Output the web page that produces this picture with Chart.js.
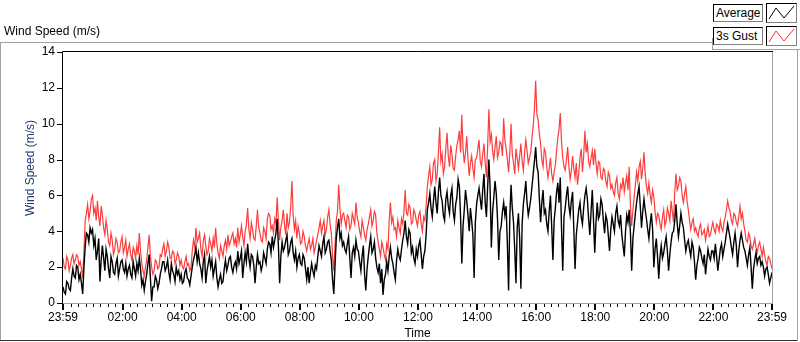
<!DOCTYPE html>
<html><head><meta charset="utf-8">
<script src="https://cdn.jsdelivr.net/npm/chart.js@4/dist/chart.umd.min.js"></script>
<style>
html,body{margin:0;padding:0;background:#fff;}
#wrap{position:relative;width:800px;height:342px;overflow:hidden;font-family:'Liberation Sans',Arial,sans-serif;font-size:12px;color:#000;}
canvas{position:absolute;left:0;top:0;}
.ln{position:absolute;}
.lb{position:absolute;border:1px solid #000;border-right-color:#808080;border-bottom-color:#808080;background:#fff;line-height:16px;padding-left:2px;white-space:nowrap;}
.sw{position:absolute;border:1px solid #000;border-right-color:#808080;border-bottom-color:#808080;background:#fff;}
</style></head>
<body><div id="wrap">
<canvas id="c" width="800" height="342"></canvas>
<div class="ln" style="left:0;top:42px;width:712px;height:1px;background:#a0a0a0"></div>
<div class="ln" style="left:0;top:42px;width:1px;height:299px;background:#a0a0a0"></div>
<div class="ln" style="left:0;top:340px;width:798px;height:1px;background:#303030"></div>
<div class="ln" style="left:797px;top:49px;width:1px;height:292px;background:#a0a0a0"></div>
<div class="ln" style="left:712px;top:38px;width:1px;height:12px;background:#a0a0a0"></div>
<div class="ln" style="left:712px;top:49px;width:88px;height:1px;background:#a0a0a0"></div>
<div style="position:absolute;left:4px;top:24px;">Wind Speed (m/s)</div>
<div class="lb" style="left:713px;top:4px;width:46px;height:16px;">Average</div>
<div class="sw" style="left:766px;top:3px;width:29px;height:18px;"><svg width="29" height="18"><polyline points="2,15 9,4 17,14 27,2" fill="none" stroke="#000" stroke-width="1"/></svg></div>
<div class="lb" style="left:713px;top:27px;width:46px;height:16px;">3s Gust</div>
<div class="sw" style="left:766px;top:26px;width:29px;height:18px;"><svg width="29" height="18"><polyline points="2,15 9,4 17,14 27,2" fill="none" stroke="#ff3030" stroke-width="1"/></svg></div>
</div>
<script>
// ---- data (2.5-minute samples, starting 23:59 of previous day) ----
const seriesNames = ['Average', '3s Gust'];
const stepMinutes = 2.5;
const gust = [
2.5,2.0,1.9,2.6,2.4,1.8,2.1,2.5,2.7,2.2,2.4,2.7,2.6,2.1,2.3,1.9,1.4,2.8,4.6,5.0,5.5,4.7,5.1,5.8,
6.0,5.0,5.3,4.6,5.7,4.8,4.3,5.4,4.9,4.2,3.8,4.6,4.1,3.4,3.2,3.9,3.5,2.7,3.0,3.6,3.4,2.8,2.9,3.4,
3.7,2.8,3.1,3.5,2.6,3.0,3.3,2.7,2.4,3.1,2.9,2.5,3.2,2.7,3.9,2.9,2.2,1.8,1.5,2.0,2.4,3.1,3.8,2.6,
2.0,1.6,1.8,2.4,2.3,1.9,2.0,2.7,2.6,3.0,3.3,2.6,2.9,3.4,3.1,2.5,2.5,2.9,2.8,2.2,2.4,2.8,2.6,2.1,
2.4,2.0,1.9,2.3,2.6,2.1,2.2,1.8,2.0,2.9,3.5,3.1,4.2,3.4,3.6,3.9,3.0,2.6,3.5,3.8,3.2,2.7,2.9,3.6,
3.3,2.9,3.6,3.1,4.2,3.3,2.8,2.5,3.2,2.9,2.6,3.2,3.5,3.0,3.8,3.2,3.4,3.7,3.9,3.3,3.6,3.1,4.2,3.4,
3.8,4.3,3.7,3.2,4.0,4.4,5.3,4.1,3.6,4.5,4.1,3.6,3.5,4.3,5.2,4.2,3.9,3.5,3.4,4.2,4.0,3.6,4.7,5.0,
4.9,4.1,4.3,3.9,4.7,4.4,5.9,4.6,3.5,4.2,4.6,5.2,4.3,3.8,5.0,4.2,4.5,5.4,6.8,4.9,4.1,4.6,3.6,4.3,
3.9,3.3,3.4,4.0,3.7,3.2,2.9,3.3,3.6,3.0,3.2,3.6,2.8,3.1,3.5,3.8,4.2,4.6,3.9,4.3,4.6,3.8,4.1,4.8,
5.2,4.4,3.9,2.6,1.8,3.2,4.6,5.1,6.6,5.3,4.4,4.9,5.0,4.6,4.2,4.9,4.8,4.1,4.3,5.0,4.7,4.4,5.6,4.8,
4.5,4.0,3.7,4.6,4.2,3.8,3.5,4.1,4.4,4.8,5.2,4.3,4.6,5.1,4.9,3.9,3.4,3.0,2.6,3.4,3.1,2.7,2.4,3.3,
3.0,4.6,5.6,4.5,4.8,4.1,4.2,3.7,4.6,4.2,3.9,4.7,4.4,5.1,6.3,5.0,4.9,5.5,5.3,4.4,4.5,5.2,5.0,4.6,
4.3,4.9,5.1,4.4,4.0,4.8,4.6,5.4,6.5,7.1,7.6,6.6,6.9,7.8,8.0,6.8,7.2,8.4,9.8,7.9,8.3,7.2,7.6,8.6,
9.5,8.2,7.6,8.8,8.3,7.5,7.4,8.2,8.8,9.1,9.6,8.4,10.5,8.6,7.8,8.4,9.3,8.0,7.1,7.8,8.2,7.5,7.0,8.0,
8.1,8.6,9.1,7.9,7.6,8.3,8.9,7.8,7.0,8.8,10.8,9.0,9.4,8.5,8.0,8.7,9.3,8.1,8.4,9.0,8.9,8.2,10.3,9.1,
8.6,8.0,7.3,8.4,10.0,8.3,7.8,7.2,8.6,8.1,7.5,8.2,8.9,7.9,7.4,8.4,9.1,8.5,7.8,8.1,8.4,9.2,9.9,10.8,
12.4,10.5,10.2,9.4,8.9,8.0,7.6,8.6,8.4,7.6,7.0,7.5,8.1,7.2,6.8,7.3,7.7,8.5,9.2,9.7,10.6,9.0,8.1,7.6,
7.4,8.0,8.7,7.6,6.9,7.4,8.2,7.5,7.0,7.8,6.6,7.2,8.1,8.6,7.3,8.2,9.6,8.4,8.9,7.9,7.6,8.1,8.5,7.7,
8.6,7.8,7.2,7.9,7.8,7.0,6.9,7.5,7.4,6.8,6.5,7.3,7.1,6.4,6.6,6.2,6.0,6.7,7.0,6.1,5.8,6.6,6.4,7.0,
6.2,6.7,7.1,6.3,7.6,5.4,4.3,5.2,5.9,6.6,7.3,6.8,7.6,7.9,6.9,7.5,8.4,7.2,6.5,6.1,6.7,6.0,5.6,6.3,
5.9,5.1,4.5,5.0,4.9,4.4,4.1,4.8,5.2,4.3,4.6,5.3,5.0,4.6,5.7,5.1,4.5,6.2,7.2,6.3,6.5,7.0,6.8,6.0,
5.6,6.1,6.5,5.7,5.2,4.6,4.1,4.5,4.7,4.0,4.2,3.9,3.7,4.2,4.4,3.8,3.9,4.1,3.5,3.9,4.3,3.7,3.8,4.2,
4.5,4.1,3.9,4.4,4.3,4.0,4.6,4.2,4.0,4.5,4.8,5.2,5.7,5.3,5.1,4.6,4.4,5.0,4.9,4.5,4.3,4.8,5.4,4.7,
5.0,4.4,4.0,3.5,3.4,3.9,3.7,3.2,3.0,3.3,3.6,3.1,2.8,3.2,3.4,3.0,2.6,3.1,2.7,2.3,2.1,2.6,2.5,2.2,1.9
];
const average = [
0.9,0.6,0.5,1.2,1.1,0.8,0.7,1.4,1.9,1.5,1.4,2.1,2.0,1.3,1.6,1.1,0.5,2.0,3.1,3.9,3.8,3.4,4.2,3.9,
4.1,3.2,3.6,2.4,2.9,3.6,1.2,2.4,3.2,2.5,1.8,3.0,2.6,1.9,1.4,2.6,2.3,1.7,1.6,2.2,2.5,1.5,1.9,2.3,
2.4,1.9,1.7,2.2,1.5,1.9,2.1,1.6,1.4,2.3,1.9,1.5,2.2,1.8,2.5,1.9,1.0,1.3,0.7,1.2,1.6,2.2,2.7,1.4,
0.1,0.9,0.9,1.5,1.3,0.8,1.1,1.6,1.9,2.3,2.3,1.8,2.0,2.4,1.7,1.3,2.2,1.8,1.6,1.2,2.0,1.6,1.8,1.3,
1.6,1.1,1.2,1.7,1.9,1.4,1.3,1.0,1.5,2.0,2.4,2.7,3.1,2.3,2.8,2.2,1.9,1.4,2.3,2.7,1.1,1.8,2.2,2.6,
2.0,2.4,1.5,1.9,2.3,1.4,0.9,1.3,1.6,1.1,1.2,1.9,2.4,1.8,2.1,2.5,2.6,2.0,1.7,2.1,2.3,1.9,2.9,2.2,
2.5,2.9,1.4,2.2,2.8,2.3,3.3,2.5,2.0,2.7,2.6,2.1,1.1,2.0,2.7,2.2,2.3,1.8,2.1,2.8,2.5,2.2,3.0,3.4,
3.3,2.8,3.7,3.1,3.5,3.9,4.7,3.2,1.1,2.6,3.4,2.9,3.1,3.5,3.8,2.7,2.9,3.4,3.6,2.8,2.4,2.9,2.0,2.5,
2.7,2.2,2.1,2.7,2.5,1.9,1.3,2.0,1.1,1.7,2.2,1.8,1.5,2.1,1.9,2.6,3.2,2.9,2.6,3.3,3.7,2.8,3.0,3.4,
3.5,2.9,2.4,1.3,0.5,2.1,3.6,4.2,4.7,3.6,3.9,3.2,3.4,3.0,2.8,3.3,3.7,2.5,1.4,2.8,3.1,2.6,3.5,3.0,
2.9,2.3,1.8,2.6,3.2,1.6,0.7,1.9,2.6,3.2,3.7,2.8,3.0,3.4,2.5,2.0,1.7,2.2,1.1,1.9,0.45,1.3,1.6,2.3,
1.8,2.6,3.1,2.5,2.2,1.7,1.3,2.4,3.0,2.6,2.4,3.0,3.5,3.9,4.6,3.7,3.3,4.1,3.9,2.8,3.1,2.5,2.2,3.0,
2.6,3.2,3.5,2.7,1.9,2.6,2.9,3.8,5.2,5.6,6.1,5.3,4.8,5.7,6.5,5.6,5.0,6.2,7.0,6.0,5.7,4.9,4.6,5.8,
6.2,5.4,5.0,6.0,6.4,5.1,4.6,5.5,5.9,6.9,6.5,4.8,2.2,4.3,5.2,6.3,5.7,4.9,4.0,5.3,4.6,3.8,1.4,4.5,
5.5,6.0,6.4,5.8,5.2,6.3,7.2,5.6,4.8,6.5,8.0,6.4,3.1,5.1,5.9,6.8,6.1,4.7,2.4,4.0,4.3,5.1,5.6,4.9,
5.4,3.3,0.7,4.8,6.6,5.3,4.5,3.0,1.1,4.2,5.0,3.6,0.8,4.4,5.5,6.1,6.8,5.6,4.9,5.3,5.8,6.5,7.2,7.9,
8.7,7.6,7.3,5.8,4.5,5.6,6.3,5.0,5.2,4.4,4.0,5.1,6.0,4.3,2.4,4.6,5.3,6.2,6.7,5.6,7.0,4.2,1.8,4.8,
5.3,6.0,6.5,5.4,4.9,5.7,6.2,4.1,1.9,3.8,4.5,5.2,5.6,4.8,4.4,5.3,6.0,6.4,5.8,4.7,3.8,5.1,6.3,4.6,
2.8,4.5,5.6,4.7,4.9,5.8,5.5,4.6,3.9,4.9,4.6,3.8,2.9,4.1,4.8,4.4,4.0,5.0,5.4,4.6,4.3,4.9,3.8,3.2,
2.6,4.0,4.9,4.5,5.2,3.9,1.8,3.6,4.3,5.0,5.6,6.1,6.5,5.4,4.2,5.1,5.8,5.2,4.7,4.1,3.6,4.4,5.0,4.1,
2.0,3.0,3.6,2.6,1.35,2.6,3.2,2.5,2.8,3.3,3.7,2.9,1.8,2.7,3.4,3.9,4.0,4.6,5.5,4.4,3.7,4.3,5.0,4.5,
4.2,3.5,2.9,3.3,3.5,3.0,2.6,3.4,3.1,2.3,1.3,2.1,2.5,3.1,2.9,2.5,2.2,2.7,1.6,2.3,3.0,2.6,2.4,2.9,
2.9,2.5,3.3,2.6,1.8,2.4,3.0,3.3,2.6,3.0,3.4,3.9,4.4,4.0,3.6,3.1,2.7,3.4,3.9,3.2,2.0,2.9,3.5,3.9,
3.5,3.1,2.9,2.5,2.1,2.7,3.1,2.0,0.8,1.9,2.4,2.8,2.2,2.5,2.6,2.1,2.3,2.0,1.5,1.9,2.0,1.6,1.1,1.4,1.7
];
// x tick positions (minutes after 23:59) and their labels
const xTickMinutes = [0,121,241,361,481,601,721,841,961,1081,1201,1321,1440];
const xTickLabels = ['23:59','02:00','04:00','06:00','08:00','10:00','12:00','14:00','16:00','18:00','20:00','22:00','23:59'];
const yTicks = [0,2,4,6,8,10,12,14];

const toPts = arr => arr.map((v,i)=>({x:i*stepMinutes, y:v}));

const deco = {
  id:'deco',
  afterDraw(chart){
    const {ctx, chartArea:a, scales:{x,y}} = chart;
    ctx.save();
    ctx.lineWidth = 1;
    ctx.strokeStyle = '#a0a0a0';
    ctx.beginPath();
    ctx.moveTo(a.left, a.bottom + 0.5); ctx.lineTo(a.right + 0.5, a.bottom + 0.5);
    ctx.lineTo(a.right + 0.5, a.top); ctx.stroke();
    ctx.strokeStyle = '#000';
    ctx.beginPath();
    ctx.moveTo(a.left - 0.5, a.bottom + 1); ctx.lineTo(a.left - 0.5, a.top - 0.5);
    ctx.lineTo(a.right + 1, a.top - 0.5); ctx.stroke();
    ctx.beginPath();
    yTicks.forEach(v=>{ const py = Math.round(y.getPixelForValue(v)) + 0.5; ctx.moveTo(a.left - 6, py); ctx.lineTo(a.left - 1, py); });
    ctx.stroke();
    ctx.beginPath();
    for (let m = 16; m < 1440; m += 15) {
      if ((m - 1) % 120 === 0) continue;
      const px = Math.round(x.getPixelForValue(m)) + 0.5;
      ctx.moveTo(px, a.bottom + 1); ctx.lineTo(px, a.bottom + 4);
    }
    ctx.stroke();
    ctx.lineWidth = 2;
    ctx.beginPath();
    xTickMinutes.forEach(m=>{ const px = Math.round(x.getPixelForValue(m)); ctx.moveTo(px, a.bottom + 1); ctx.lineTo(px, a.bottom + 7); });
    ctx.stroke();
    ctx.fillStyle = '#1e3a6e';
    ctx.font = '12px "Liberation Sans", Arial, sans-serif';
    ctx.translate(31, 168); ctx.rotate(-Math.PI/2);
    ctx.textAlign = 'center'; ctx.textBaseline = 'middle';
    ctx.fillText('Wind Speed (m/s)', 0, 0);
    ctx.restore();
  }
};

Chart.defaults.font.family = '"Liberation Sans", Arial, sans-serif';
Chart.defaults.font.size = 12;
Chart.defaults.color = '#000';

new Chart(document.getElementById('c'), {
  type:'line',
  data:{ datasets:[
    {label:seriesNames[0], data:toPts(average), borderColor:'#000000', borderWidth:1.4, pointRadius:0, tension:0},
    {label:seriesNames[1], data:toPts(gust), borderColor:'#ff3c3c', borderWidth:1.2, pointRadius:0, tension:0}
  ]},
  options:{
    responsive:false, animation:false, events:[],
    layout:{padding:{top:52, right:28, left:0, bottom:0}},
    plugins:{legend:{display:false}, tooltip:{enabled:false}, title:{display:false}},
    scales:{
      x:{type:'linear', min:0, max:1440,
        afterBuildTicks(s){ s.ticks = xTickMinutes.map(v=>({value:v})); },
        afterFit(s){ s.height = 39; },
        grid:{display:false, drawTicks:false}, border:{display:false},
        ticks:{autoSkip:false, maxRotation:0, padding:7, callback:(v,i)=>xTickLabels[i]},
        title:{display:true, text:'Time', padding:{top:0,bottom:1}}
      },
      y:{min:0, max:14,
        afterBuildTicks(s){ s.ticks = yTicks.map(v=>({value:v})); },
        afterFit(s){ s.width = 63; },
        grid:{display:false, drawTicks:false}, border:{display:false},
        ticks:{padding:8, callback:v=>String(v)}
      }
    }
  },
  plugins:[deco]
});
</script>
</body></html>
